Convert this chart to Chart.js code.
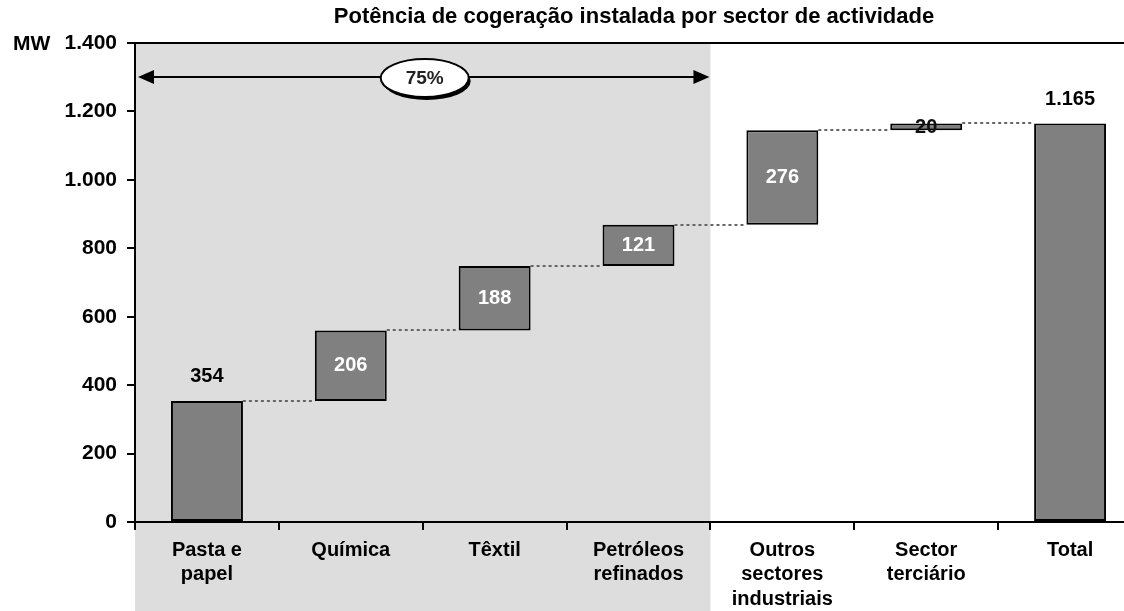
<!DOCTYPE html>
<html>
<head>
<meta charset="utf-8">
<script src="https://cdn.jsdelivr.net/npm/chart.js@4"></script>
<style>
  body { margin: 0; overflow: hidden; background: #fff; }
  #caixa { position: absolute; left: 0; top: 0; width: 1142px; height: 611px; }
</style>
</head>
<body>
<div id="caixa"><canvas id="grafico"></canvas></div>
<script>
// dados
const categorias = [['Pasta e', 'papel'], ['Química'], ['Têxtil'], ['Petróleos', 'refinados'], ['Outros', 'sectores', 'industriais'], ['Sector', 'terciário'], ['Total']];
const valores = [354, 206, 188, 121, 276, 20, 1165];
const ehTotal = [false, false, false, false, false, false, true];
const ticksY = [0, 200, 400, 600, 800, 1000, 1200, 1400];
const titulo = 'Potência de cogeração instalada por sector de actividade';
const percentagem = '75%';
const nIndustria = 4; // primeiras 4 categorias (zona cinzenta)

// barras flutuantes [inicio, fim]
let acumulado = 0;
const barras = valores.map((v, i) => {
    if (ehTotal[i]) return [0, v];
    const b = [acumulado, acumulado + v];
    acumulado += v;
    return b;
});

function formatar(n) {
    return String(n).replace(/\B(?=(\d{3})+(?!\d))/g, '.');
}

const FONTE = '"Liberation Sans", Arial, sans-serif';

const extras = {
    id: 'extras',
    beforeDraw(chart) {
        const ctx = chart.ctx;
        const area = chart.chartArea;
        const x = chart.scales.x;
        const larg = x.getPixelForValue(1) - x.getPixelForValue(0);
        const fimCinza = x.getPixelForValue(nIndustria - 1) + larg / 2;
        ctx.save();
        ctx.fillStyle = '#dddddd';
        ctx.fillRect(area.left, area.top, fimCinza - area.left, chart.height - area.top);
        ctx.restore();
    },
    beforeDatasetsDraw(chart) {
        const ctx = chart.ctx;
        const meta = chart.getDatasetMeta(0);
        const y = chart.scales.y;
        ctx.save();
        ctx.strokeStyle = '#666';
        ctx.lineWidth = 2;
        ctx.setLineDash([3, 3]);
        for (let i = 0; i < barras.length - 1; i++) {
            const a = meta.data[i], b = meta.data[i + 1];
            const py = Math.round(y.getPixelForValue(barras[i][1]));
            ctx.beginPath();
            ctx.moveTo(a.x + a.width / 2, py);
            ctx.lineTo(b.x - b.width / 2, py);
            ctx.stroke();
        }
        ctx.restore();
    },
    afterDatasetsDraw(chart) {
        const ctx = chart.ctx;
        const meta = chart.getDatasetMeta(0);
        const y = chart.scales.y;
        ctx.save();
        ctx.font = 'bold 20px ' + FONTE;
        ctx.textAlign = 'center';
        ctx.textBaseline = 'middle';
        valores.forEach((v, i) => {
            const el = meta.data[i];
            const topo = y.getPixelForValue(barras[i][1]);
            const base = y.getPixelForValue(barras[i][0]);
            if (i === 0 || ehTotal[i]) {
                ctx.fillStyle = '#000';
                ctx.fillText(formatar(v), el.x, topo - 24);
            } else if (v < 50) {
                ctx.fillStyle = '#111';
                ctx.fillText(formatar(v), el.x, (topo + base) / 2 + 1);
            } else {
                ctx.fillStyle = '#fff';
                ctx.fillText(formatar(v), el.x, (topo + base) / 2);
            }
        });
        ctx.restore();
    },
    afterDraw(chart) {
        const ctx = chart.ctx;
        const area = chart.chartArea;
        const x = chart.scales.x;
        const y = chart.scales.y;
        const larg = x.getPixelForValue(1) - x.getPixelForValue(0);
        const fimCinza = x.getPixelForValue(nIndustria - 1) + larg / 2;
        ctx.save();
        // linha de topo
        ctx.strokeStyle = '#000';
        ctx.lineWidth = 2;
        ctx.beginPath();
        ctx.moveTo(area.left, area.top);
        ctx.lineTo(area.right, area.top);
        ctx.stroke();

        // título
        ctx.fillStyle = '#000';
        ctx.font = 'bold 22px ' + FONTE;
        ctx.textAlign = 'center';
        ctx.textBaseline = 'middle';
        ctx.fillText(titulo, 634, 17);

        // unidade
        ctx.font = 'bold 21px ' + FONTE;
        ctx.textAlign = 'left';
        ctx.fillText('MW', 13, area.top + 1);

        // seta dupla 75%
        const ay = Math.round(y.getPixelForValue(1300));
        const x0 = area.left + 3, x1 = fimCinza - 1;
        ctx.lineWidth = 2;
        ctx.beginPath();
        ctx.moveTo(x0 + 10, ay);
        ctx.lineTo(x1 - 10, ay);
        ctx.stroke();
        ctx.beginPath();
        ctx.moveTo(x0, ay); ctx.lineTo(x0 + 16, ay - 7); ctx.lineTo(x0 + 16, ay + 7); ctx.closePath();
        ctx.fill();
        ctx.beginPath();
        ctx.moveTo(x1, ay); ctx.lineTo(x1 - 16, ay - 7); ctx.lineTo(x1 - 16, ay + 7); ctx.closePath();
        ctx.fill();

        const cx = (area.left + fimCinza) / 2 + 2;
        ctx.beginPath();
        ctx.ellipse(cx + 2, ay + 4, 44, 19, 0, 0, Math.PI * 2);
        ctx.fillStyle = '#000';
        ctx.fill();
        ctx.beginPath();
        ctx.ellipse(cx, ay + 1, 44, 19, 0, 0, Math.PI * 2);
        ctx.fillStyle = '#fff';
        ctx.fill();
        ctx.strokeStyle = '#000';
        ctx.stroke();
        ctx.fillStyle = '#222';
        ctx.font = 'bold 19px ' + FONTE;
        ctx.textAlign = 'center';
        ctx.fillText(percentagem, cx, ay + 2);
        ctx.restore();
    }
};

new Chart(document.getElementById('grafico'), {
    type: 'bar',
    data: {
        labels: categorias,
        datasets: [{
            data: barras,
            backgroundColor: '#808080',
            borderColor: '#000',
            borderWidth: 2,
            borderSkipped: false,
            barPercentage: 0.5,
            categoryPercentage: 1
        }]
    },
    options: {
        responsive: true,
        maintainAspectRatio: false,
        animation: false,
        layout: { padding: { top: 43, left: 0, right: 0, bottom: 0 } },
        plugins: {
            legend: { display: false },
            tooltip: { enabled: false },
            title: { display: false }
        },
        scales: {
            x: {
                grid: { drawOnChartArea: false, tickLength: 8, color: '#000', lineWidth: 2, offset: true },
                border: { color: '#000', width: 2 },
                ticks: {
                    color: '#000',
                    padding: 8,
                    maxRotation: 0,
                    autoSkip: false,
                    font: { family: '"Liberation Sans Narrow", "Liberation Sans", Arial, sans-serif', weight: 'bold', size: 20, lineHeight: 1.22 }
                },
                afterFit(scale) { scale.height = 89; }
            },
            y: {
                min: 0,
                max: 1400,
                afterBuildTicks(scale) { scale.ticks = ticksY.map(v => ({ value: v })); },
                grid: { drawOnChartArea: false, tickLength: 8, color: '#000', lineWidth: 2 },
                border: { color: '#000', width: 2 },
                ticks: {
                    color: '#000',
                    padding: 10,
                    font: { family: FONTE, weight: 'bold', size: 21 },
                    callback: v => formatar(v)
                },
                afterFit(scale) { scale.width = 135; }
            }
        }
    },
    plugins: [extras]
});
</script>
</body>
</html>
